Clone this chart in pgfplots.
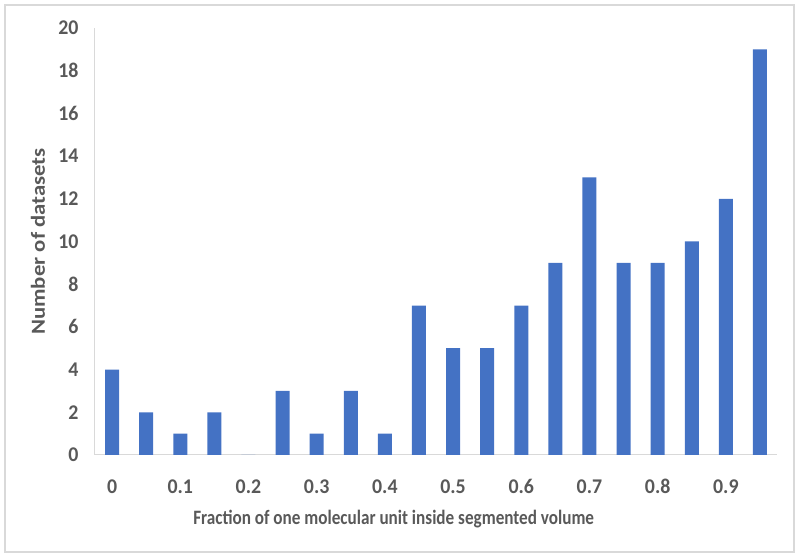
\documentclass[border=0pt]{standalone}
\usepackage{pgfplots}
\pgfplotsset{compat=1.18}
\usepackage{fontspec}
\setmainfont{Carlito}
\newfontfamily\tickfont{Carlito}[FakeStretch=0.95]
\newfontfamily\xlabfont{Carlito}[FakeStretch=0.84]
\newfontfamily\ylabfont{Carlito}[FakeStretch=1.14]
\definecolor{barblue}{HTML}{4472C4}
\definecolor{txtgray}{HTML}{595959}
\definecolor{axgray}{HTML}{D9D9D9}
\begin{document}
\begin{tikzpicture}[x=1bp,y=1bp]
\draw[axgray,line width=1.5bp] (-90,-97) rectangle (699,450);
\begin{axis}[
  at={(0,0)}, anchor=south west,
  scale only axis, width=682bp, height=427bp,
  xmin=-0.5, xmax=19.5, ymin=0, ymax=20,
  axis x line=bottom, axis y line=left,
  axis line style={axgray, line width=1bp, -},
  major tick length=0pt,
  ytick={0,2,...,20},
  xtick={0,2,...,18},
  xticklabels={0,0.1,0.2,0.3,0.4,0.5,0.6,0.7,0.8,0.9},
  /pgf/number format/assume math mode=true,
  ticklabel style={font=\tickfont\fontsize{21}{24}\selectfont\bfseries, text=txtgray},
  xticklabel style={yshift=-21bp},
  yticklabel style={xshift=-13bp},
  xlabel={Fraction of one molecular unit inside segmented volume},
  ylabel={Number of datasets},
  xlabel style={font=\xlabfont\fontsize{20.5}{24}\selectfont\bfseries, text=txtgray, at={(rel axis cs:0.438,0)}, anchor=center, yshift=-64bp},
  ylabel style={font=\ylabfont\fontsize{20}{24}\selectfont\bfseries, text=txtgray, at={(rel axis cs:0,0.5)}, anchor=center, yshift=57bp},
  clip=false,
]
\addplot[ybar, bar width=14bp, fill=barblue, draw=none] coordinates {
(0,4) (1,2) (2,1) (3,2) (4,0) (5,3) (6,1) (7,3) (8,1) (9,7)
(10,5) (11,5) (12,7) (13,9) (14,13) (15,9) (16,9) (17,10) (18,12) (19,19)
};
\end{axis}
\pgfresetboundingbox
\useasboundingbox (-95,-102) rectangle (705,455);
\end{tikzpicture}
\end{document}
